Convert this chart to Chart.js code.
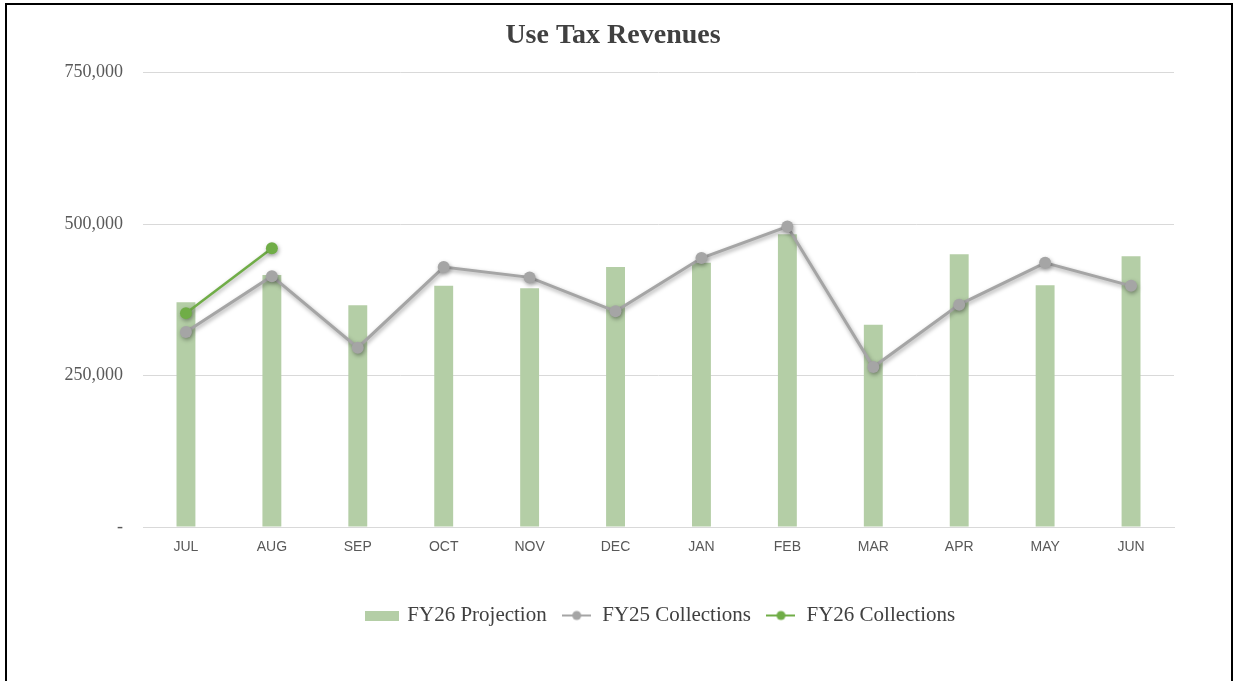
<!DOCTYPE html>
<html>
<head>
<meta charset="utf-8">
<script src="https://cdn.jsdelivr.net/npm/chart.js@4.4.1/dist/chart.umd.min.js"></script>
<style>
  html, body { margin: 0; padding: 0; background: #fff; }
  #wrap { position: relative; width: 1240px; height: 681px; overflow: hidden; }
  #frame { position: absolute; left: 5px; top: 3px; width: 1224px; height: 700px;
           border: 2px solid #000; pointer-events: none; }
  canvas { position: absolute; left: 0; top: 0; }
</style>
</head>
<body>
<div id="wrap">
  <canvas id="myChart" width="1240" height="681"></canvas>
  <div id="frame"></div>
</div>
<script>
// 데이터
var months = ["JUL", "AUG", "SEP", "OCT", "NOV", "DEC", "JAN", "FEB", "MAR", "APR", "MAY", "JUN"];
var fy26Projection = [371000, 416000, 366000, 398000, 394000, 429000, 436000, 483000, 334000, 450000, 399000, 447000];
var fy25Collections = [322000, 414000, 296000, 429000, 412000, 356000, 444000, 496000, 264000, 367000, 436000, 398000];
var fy26Collections = [353000, 460000, null, null, null, null, null, null, null, null, null, null];

var barColor = "#b4cea6";
var grayColor = "#a5a5a5";
var greenColor = "#70ad47";
var serif = "'Liberation Serif', 'DejaVu Serif', serif";

// 범례 아이콘 (선 + 점)
function lineIcon(color) {
  var c = document.createElement("canvas");
  c.width = 29; c.height = 12;
  var x = c.getContext("2d");
  x.strokeStyle = color; x.lineWidth = 2;
  x.beginPath(); x.moveTo(0, 6); x.lineTo(29, 6); x.stroke();
  x.fillStyle = color;
  x.beginPath(); x.arc(14.5, 6, 4.5, 0, Math.PI * 2); x.fill();
  return c;
}
function boxIcon(color) {
  var c = document.createElement("canvas");
  c.width = 34; c.height = 10;
  var x = c.getContext("2d");
  x.fillStyle = color; x.fillRect(0, 0, 34, 10);
  return c;
}

// 선 그림자 플러그인
var lineShadow = {
  id: "lineShadow",
  beforeDatasetDraw: function (chart, args) {
    if (args.meta.type !== "line") return;
    var ctx = chart.ctx;
    ctx.save();
    ctx.shadowColor = "rgba(0,0,0,0.35)";
    ctx.shadowBlur = 4;
    ctx.shadowOffsetX = 1;
    ctx.shadowOffsetY = 2;
  },
  afterDatasetDraw: function (chart, args) {
    if (args.meta.type !== "line") return;
    chart.ctx.restore();
  }
};

// 범례를 오른쪽으로 조금 이동 (원본처럼)
var legendShift = {
  id: "legendShift",
  afterLayout: function (chart) {
    chart.legend.left += 48;
    chart.legend.right += 48;
  }
};

var ctx = document.getElementById("myChart").getContext("2d");
new Chart(ctx, {
  type: "bar",
  data: {
    labels: months,
    datasets: [
      {
        type: "bar",
        label: "FY26 Projection",
        data: fy26Projection,
        backgroundColor: barColor,
        categoryPercentage: 1,
        barPercentage: 0.22,
        order: 3
      },
      {
        type: "line",
        label: "FY25 Collections",
        data: fy25Collections,
        borderColor: grayColor,
        backgroundColor: grayColor,
        borderWidth: 3,
        pointRadius: 6,
        pointHoverRadius: 6,
        pointBorderWidth: 0,
        tension: 0,
        order: 2
      },
      {
        type: "line",
        label: "FY26 Collections",
        data: fy26Collections,
        borderColor: greenColor,
        backgroundColor: greenColor,
        borderWidth: 2.5,
        pointRadius: 6,
        pointHoverRadius: 6,
        pointBorderWidth: 0,
        tension: 0,
        spanGaps: false,
        order: 1
      }
    ]
  },
  options: {
    responsive: false,
    animation: false,
    layout: { padding: { left: 0, right: 14, top: 0, bottom: 45 } },
    scales: {
      x: {
        grid: { display: false, drawTicks: false },
        border: { display: true, color: "#d9d9d9", width: 1 },
        ticks: {
          color: "#595959",
          font: { family: "'Liberation Sans', Arial, sans-serif", size: 14 },
          padding: 12,
          maxRotation: 0
        },
        afterFit: function (scale) { scale.height = 63; }
      },
      y: {
        min: 0,
        max: 750000,
        grid: { color: "#d9d9d9", lineWidth: 1, drawTicks: false },
        border: { display: false },
        ticks: {
          stepSize: 250000,
          color: "#595959",
          padding: 20,
          font: { family: serif, size: 18 },
          callback: function (v) { return v === 0 ? "-" : v.toLocaleString("en-US"); }
        },
        afterFit: function (scale) { scale.width = 143; }
      },
      // 오른쪽 여백용 빈 축
      yRight: {
        position: "right",
        display: true,
        grid: { display: false, drawTicks: false },
        border: { display: false },
        ticks: { display: false },
        afterFit: function (scale) { scale.width = 52; }
      }
    },
    plugins: {
      title: {
        display: true,
        text: "Use Tax Revenues",
        color: "#404040",
        font: { family: serif, size: 28, weight: "bold" },
        padding: { top: 19, bottom: 20 }
      },
      legend: {
        position: "bottom",
        labels: {
          usePointStyle: true,
          pointStyleWidth: 30,
          color: "#404040",
          font: { family: serif, size: 21 },
          padding: 15,
          generateLabels: function (chart) {
            var icons = [boxIcon(barColor), lineIcon(grayColor), lineIcon(greenColor)];
            return chart.data.datasets.map(function (ds, i) {
              return {
                text: ds.label,
                pointStyle: icons[i],
                fillStyle: ds.backgroundColor,
                strokeStyle: ds.backgroundColor,
                lineWidth: 0,
                hidden: false,
                datasetIndex: i,
                fontColor: "#404040"
              };
            });
          }
        }
      },
      tooltip: { enabled: false }
    }
  },
  plugins: [lineShadow, legendShift]
});
</script>
</body>
</html>
